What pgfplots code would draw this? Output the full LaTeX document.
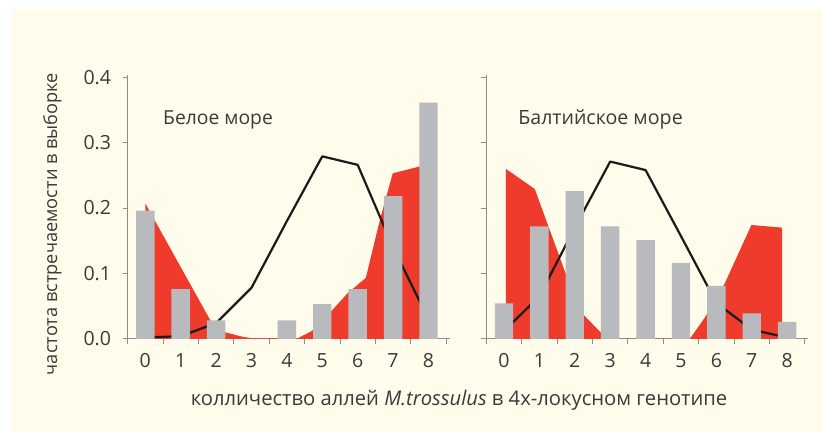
\documentclass[border=0pt]{standalone}
\usepackage{fontspec}
\setmainfont{Open Sans}
\usepackage{pgfplots}
\pgfplotsset{compat=1.18}
\definecolor{cream}{HTML}{FFFCEB}
\definecolor{redf}{HTML}{EE3B2B}
\definecolor{barg}{HTML}{B9BABD}
\definecolor{axg}{HTML}{8C8C8C}
\definecolor{txt}{HTML}{3A3A3A}
\definecolor{lineb}{HTML}{1A1A1A}
\pgfplotsset{
  panel/.style={
    scale only axis, width=322.1pt, height=264.2pt,
    anchor=south west,
    xmin=-0.5, xmax=8.6, ymin=0, ymax=0.404,
    axis x line=bottom, axis y line=left,
    axis line style={-, draw=axg, line width=0.9pt},
    xtick={-0.5,0.5,...,8.5}, xticklabels={},
    extra x ticks={0,1,2,3,4,5,6,7,8},
    extra x tick labels={0,1,2,3,4,5,6,7,8},
    extra x tick style={major tick length=0pt},
    ytick={0,0.1,0.2,0.3,0.4},
    major tick length=5pt,
    tick align=outside,
    tick style={draw=axg, line width=0.8pt},
    tick label style={font=\fontsize{19.5}{22}\selectfont, text=txt},
    xticklabel style={yshift=-11pt},
    yticklabel style={xshift=-8pt},
    clip=false,
  }
}
\begin{document}
\begin{tikzpicture}[x=1pt,y=1pt]
\useasboundingbox (0,0) rectangle (822,432);
\fill[white] (0,0) rectangle (822,432);
\fill[cream] (11,0) rectangle (822,422);

% ---------- left panel: White Sea ----------
\begin{axis}[panel, at={(127.6pt,93.2pt)},
  yticklabels={0.0,0.1,0.2,0.3,0.4}]
\addplot[fill=redf, draw=none] coordinates {
 (0,0) (0,0.207) (1.83,0.029) (2.0,0.016) (2.25,0.01) (2.76,0.003) (3,0.001)
 (4.28,0.0) (4.71,0.012) (5.22,0.04) (5.72,0.07) (6.23,0.093) (6.62,0.18)
 (6.99,0.253) (7.86,0.265) (7.86,0)} \closedcycle;
\addplot[lineb, line width=2.2pt, line join=round] coordinates {
 (0,0.002) (1,0.004) (2,0.024) (3,0.078) (4,0.18) (5,0.279) (6,0.266) (7,0.14) (8,0.03)};
\addplot[ybar, bar width=0.52, bar shift=0pt, fill=barg, draw=none] coordinates {
 (0,0.196) (1,0.076) (2,0.028) (3,0) (4,0.028) (5,0.053) (6,0.076) (7,0.218) (8,0.361)};
\node[anchor=base west, inner sep=0pt, text=txt, font=\fontsize{19.3}{22}\selectfont]
  at (axis cs:0.5,0.328) {Белое море};
\end{axis}

% ---------- right panel: Baltic Sea ----------
\begin{axis}[panel, at={(486.3pt,93.2pt)},
  yticklabels={}]
\addplot[fill=redf, draw=none] coordinates {
 (0.05,0) (0.05,0.26) (0.87,0.229) (1.72,0.103) (2.26,0.036) (2.71,0.011) (2.9,0)
 (5.25,0) (5.67,0.032) (6.24,0.085) (6.99,0.174) (7.86,0.17) (7.86,0)} \closedcycle;
\addplot[lineb, line width=2.2pt, line join=round] coordinates {
 (0,0.012) (1,0.065) (2,0.17) (3,0.271) (4,0.258) (5,0.157) (6,0.055) (7,0.014) (8,0.002)};
\addplot[ybar, bar width=0.52, bar shift=0pt, fill=barg, draw=none] coordinates {
 (0,0.054) (1,0.172) (2,0.226) (3,0.172) (4,0.151) (5,0.116) (6,0.081) (7,0.039) (8,0.026)};
\node[anchor=base west, inner sep=0pt, text=txt, font=\fontsize{19.6}{22}\selectfont]
  at (axis cs:0.4,0.328) {Балтийское море};
\end{axis}

\node[anchor=base, inner sep=0pt, text=txt, font=\fontsize{20.2}{23}\selectfont]
  at (459,27) {колличество аллей \textit{M.trossulus} в 4х-локусном генотипе};
\node[anchor=base, rotate=90, inner sep=0pt, text=txt, font=\fontsize{18.2}{21}\selectfont]
  at (57,208) {частота встречаемости в выборке};
\end{tikzpicture}
\end{document}
